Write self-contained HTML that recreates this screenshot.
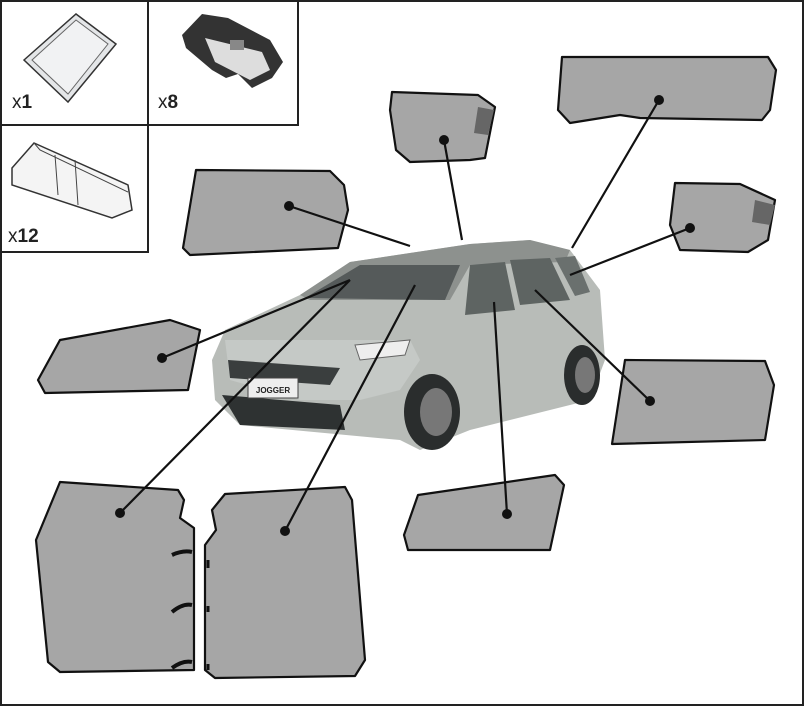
<!DOCTYPE html><html><head><style>body{margin:0;background:#fff}svg{display:block}</style></head><body>
<svg width="804" height="706" viewBox="0 0 804 706" xmlns="http://www.w3.org/2000/svg" font-family="Liberation Sans, sans-serif">
<rect x="1" y="1" width="802" height="704" fill="#fff" stroke="#222" stroke-width="2"/>
<path d="M0 125H148V0M148 125H298V0M148 125V252H0" fill="none" stroke="#222" stroke-width="2"/>
<path d="M24 60L76 14L116 44L68 102Z" fill="#e4e6e8" stroke="#333" stroke-width="1.5"/>
<path d="M32 60L76 20L108 44L68 94Z" fill="#f1f2f3" stroke="#666"/>
<text x="12" y="108" font-size="19" fill="#222">x<tspan font-weight="bold">1</tspan></text>
<path d="M182 35L202 14L228 18L270 40L283 62L272 78L252 88L238 74L226 78L212 70L186 48Z" fill="#333"/>
<path d="M205 38L262 52L270 70L250 80L215 62Z" fill="#ddd"/>
<rect x="230" y="40" width="14" height="10" fill="#888"/>
<text x="158" y="108" font-size="19" fill="#222">x<tspan font-weight="bold">8</tspan></text>
<path d="M12 168L34 143L128 185L132 210L112 218L12 185Z" fill="#f4f4f4" stroke="#333" stroke-width="1.5"/>
<path d="M34 143L40 150L128 192M55 155L58 195M75 160L78 205" fill="none" stroke="#444"/>
<text x="8" y="242" font-size="19" fill="#222">x<tspan font-weight="bold">12</tspan></text>
<g>
<path d="M350 262L470 244L530 240L570 250L600 290L605 360L590 400L470 430L420 450L400 440L240 425L215 400L212 360L225 330L300 295Z" fill="#b8bcb8"/>
<path d="M350 262L470 244L530 240L570 250L565 262L470 265L450 300L310 300L300 295Z" fill="#8d918e"/>
<path d="M305 298L445 300L460 265L360 265Z" fill="#555a5a"/>
<path d="M470 265L505 262L515 310L465 315Z M510 260L550 258L570 300L520 305Z" fill="#5e6462"/>
<path d="M555 258L575 256L590 292L575 296Z" fill="#6a706e"/>
<path d="M225 340L410 340L420 360L400 390L360 400L300 400L230 380Z" fill="#c5c9c6"/>
<path d="M228 360L340 368L330 385L230 378Z" fill="#3a3e3e"/>
<path d="M222 395L340 405L345 430L240 425Z" fill="#2e3232"/>
<rect x="248" y="378" width="50" height="20" fill="#eee" stroke="#444"/>
<text x="273" y="393" font-size="8" font-weight="bold" text-anchor="middle" fill="#222">JOGGER</text>
<ellipse cx="432" cy="412" rx="28" ry="38" fill="#2a2d2d"/><ellipse cx="436" cy="412" rx="16" ry="24" fill="#777"/>
<ellipse cx="582" cy="375" rx="18" ry="30" fill="#2a2d2d"/><ellipse cx="585" cy="375" rx="10" ry="18" fill="#777"/>
<path d="M355 345L410 340L405 355L360 360Z" fill="#eee" stroke="#666"/>
</g>
<g fill="#a6a6a6" stroke="#111" stroke-width="2.2" stroke-linejoin="round">
<path d="M196 170L330 171L344 185L348 210L338 248L190 255L183 248Z"/>
<path d="M392 92L478 95L495 107L485 158L470 160L410 162L396 150L390 110Z"/>
<path d="M562 57L768 57L776 70L770 110L762 120L640 118L620 115L570 123L558 110Z"/>
<path d="M675 183L740 184L775 200L768 240L748 252L680 250L670 225Z"/>
<path d="M60 340L170 320L200 330L188 390L45 393L38 380Z"/>
<path d="M625 360L765 361L774 385L765 440L612 444Z"/>
<path d="M418 495L555 475L564 485L550 550L408 550L404 535Z"/>
<path d="M60 482L178 490L184 500L180 518L194 528L194 670L60 672L48 662L36 540Z"/>
<path d="M225 494L345 487L352 500L365 660L355 676L215 678L205 670L205 545L216 530L212 510Z"/>
</g>
<path d="M478 107L494 110L488 135L474 133Z M755 200L775 205L770 225L752 222Z" fill="#666"/>
<path d="M172 555Q183 550 192 552M172 612Q183 603 192 605M172 668Q183 660 192 662" stroke="#111" stroke-width="4" fill="none"/>
<path d="M208 560V568M208 606V612M208 664V670" stroke="#111" stroke-width="3"/>
<g stroke="#111" stroke-width="2.2" fill="none">
<path d="M289 206L410 246M444 140L462 240M659 100L572 248M690 228L570 275M162 358L350 280M650 401L535 290M507 514L494 302M120 513L350 280M285 531L415 285"/>
</g>
<g fill="#111">
<circle cx="289" cy="206" r="5"/><circle cx="444" cy="140" r="5"/><circle cx="659" cy="100" r="5"/><circle cx="690" cy="228" r="5"/><circle cx="162" cy="358" r="5"/><circle cx="650" cy="401" r="5"/><circle cx="507" cy="514" r="5"/><circle cx="120" cy="513" r="5"/><circle cx="285" cy="531" r="5"/>
</g>
</svg>
</body></html>
